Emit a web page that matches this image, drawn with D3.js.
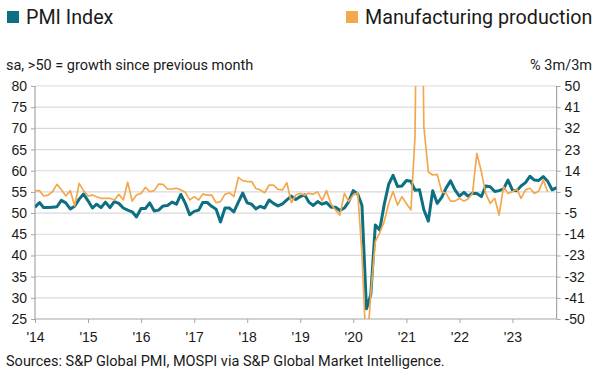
<!DOCTYPE html>
<html lang="en">
<head>
<meta charset="UTF-8">
<title>PMI vs manufacturing production</title>
<script src="https://cdn.jsdelivr.net/npm/d3@7"></script>
<style>
  body { margin: 0; background: #fff; }
  svg { display: block; }
  .axis text { font-family: "Liberation Sans Narrow", "Arial Narrow", "Liberation Sans", sans-serif; font-size: 14px; fill: #1a1a1a; }
  .axis path, .axis line { stroke: #a6a6a6; }
  .label { font-family: Roboto, "Liberation Sans", sans-serif; fill: #1a1a1a; }
</style>
</head>
<body>
<svg id="chart" width="599" height="377"></svg>
<script>
// series names
const pmiName = 'PMI Index';
const prodName = 'Manufacturing production';

// first month of both series (Jan 2014), one value per month after that
const startYear = 2014;

// PMI index, sa (Jan 2014 - Nov 2023)
const pmi = [
  51.4, 52.5, 51.3, 51.3, 51.4, 51.5, 53.0, 52.4, 51.0, 51.6, 53.3, 54.5,
  52.9, 51.2, 52.1, 51.3, 52.6, 51.3, 52.7, 52.3, 51.2, 50.7, 50.3, 49.1,
  51.1, 51.1, 52.4, 50.5, 50.7, 51.7, 51.8, 52.6, 52.1, 54.4, 52.3, 49.6,
  50.4, 50.7, 52.5, 52.5, 51.6, 50.9, 47.9, 51.2, 51.2, 50.3, 52.6, 54.7,
  52.4, 52.1, 51.0, 51.6, 51.2, 53.1, 52.3, 51.7, 52.2, 53.1, 54.0, 53.2,
  53.9, 54.3, 52.6, 51.8, 52.7, 52.1, 52.5, 51.4, 51.4, 50.6, 51.2, 52.7,
  55.3, 54.5, 51.8, 27.4, 30.8, 47.2, 46.0, 52.0, 56.8, 58.9, 56.3, 56.4,
  57.7, 57.5, 55.4, 55.5, 50.8, 48.1, 55.3, 52.3, 53.7, 55.9, 57.6, 55.5,
  54.0, 54.9, 54.0, 54.7, 54.6, 53.9, 56.4, 56.2, 55.1, 55.3, 55.7, 57.8,
  55.4, 55.3, 56.4, 57.2, 58.7, 57.8, 57.7, 58.6, 57.5, 55.5, 56.0
];

// manufacturing production, % (Jan 2014 - Sep 2023)
const production = [
  5.1, 5.1, 2.8, 3.2, 4.6, 7.8, 5.6, 2.8, 5.1, -1.5, 8.2, 5.1,
  2.8, 3.2, 2.5, 1.8, 1.8, 1.8, 1.1, 3.5, 1.1, 8.7, 0.6, 3.2,
  3.9, 6.5, 4.6, 5.1, 7.9, 7.8, 5.8, 5.8, 6.1, 5.4, 4.4, 1.1,
  2.5, 1.1, 3.6, 3.2, 3.2, -0.1, 0.4, 3.5, 4.2, 2.5, 10.8, 9.4,
  9.0, 9.0, 6.0, 5.4, 4.2, 7.5, 7.5, 5.6, 5.4, 8.5, -0.1, 3.2,
  3.9, 3.2, 3.9, 3.6, 4.6, 0.8, 5.1, -0.6, -3.2, -5.4, 3.9, 0.4,
  3.2, 4.2, -22, -66, -39, -16.8, -13, -8.2, -0.4, 4.7, -1.1, 2.5,
  -0.4, -3.2, 28, 197, 32.5, 13.2, 11.8, 12.1, 4.6, 3.9, 0.6, 0.6,
  1.8, 0.6, 1.5, 3.9, 21.1, 13.2, 3.9, -0.4, 1.8, -5.4, 6.8, 3.9,
  4.6, 5.8, 1.8, 5.4, 6.1, 3.9, 4.9, 9.6, 4.6
];

// axis ticks
const leftTicks = [25, 30, 35, 40, 45, 50, 55, 60, 65, 70, 75, 80];
const rightTickLabels = ['50', '41', '32', '23', '14', '5', '-5', '-14', '-23', '-32', '-41', '-50'];
const yearTicks = [2014, 2015, 2016, 2017, 2018, 2019, 2020, 2021, 2022, 2023];

const colors = { pmi: '#0c6f82', prod: '#f3a84e' };

const svg = d3.select('#chart');
const plot = { left: 35, right: 556.6, top: 86, bottom: 319 };

const monthDate = i => new Date(startYear, i, 1);
const pmiData = pmi.map((v, i) => ({ date: monthDate(i), v }));
const prodData = production.map((v, i) => ({ date: monthDate(i), v }));

const x = d3.scaleTime()
  .domain([monthDate(0), monthDate(pmi.length - 1)])
  .range([plot.left, plot.right]);
const yL = d3.scaleLinear().domain([25, 80]).range([plot.bottom, plot.top]);
const yR = d3.scaleLinear().domain([-50, 50]).range([plot.bottom, plot.top]);
const rightTicks = rightTickLabels.map((d, i) => 50 - i * 100 / (rightTickLabels.length - 1));

// gridlines
svg.append('g')
  .selectAll('line').data(leftTicks.filter(d => d > 25))
  .join('line')
  .attr('x1', plot.left).attr('x2', plot.right)
  .attr('y1', d => yL(d)).attr('y2', d => yL(d))
  .attr('stroke', '#d9d9d9').attr('stroke-width', 1.2);

// axes
const gL = svg.append('g').attr('class', 'axis')
  .attr('transform', `translate(${plot.left},0)`)
  .call(d3.axisLeft(yL).tickValues(leftTicks).tickSize(4).tickPadding(4));
const gR = svg.append('g').attr('class', 'axis')
  .attr('transform', `translate(${plot.right},0)`)
  .call(d3.axisRight(yR).tickValues(rightTicks).tickSize(4).tickPadding(4)
    .tickFormat((d, i) => rightTickLabels[i]));
const gX = svg.append('g').attr('class', 'axis')
  .attr('transform', `translate(0,${plot.bottom})`)
  .call(d3.axisBottom(x).tickValues(yearTicks.map(y => new Date(y, 0, 1)))
    .tickSize(4).tickPadding(9)
    .tickFormat(d => "'" + String(d.getFullYear()).slice(2)));
[gL, gR, gX].forEach(g => g.select('.domain').attr('d', null));
svg.append('line').attr('class', 'axisline')
  .attr('x1', plot.left).attr('x2', plot.right).attr('y1', plot.bottom).attr('y2', plot.bottom);
svg.append('line').attr('class', 'axisline')
  .attr('x1', plot.left).attr('x2', plot.left).attr('y1', plot.top).attr('y2', plot.bottom);
svg.append('line').attr('class', 'axisline')
  .attr('x1', plot.right).attr('x2', plot.right).attr('y1', plot.top).attr('y2', plot.bottom);
svg.selectAll('.axisline').attr('stroke', '#a6a6a6').attr('stroke-width', 1.2);

// lines, clipped to the plot area
svg.append('clipPath').attr('id', 'clip')
  .append('rect')
  .attr('x', plot.left).attr('y', plot.top)
  .attr('width', plot.right - plot.left).attr('height', plot.bottom - plot.top);
const lines = svg.append('g').attr('clip-path', 'url(#clip)');

lines.append('path').datum(pmiData)
  .attr('fill', 'none').attr('stroke', colors.pmi).attr('stroke-width', 3)
  .attr('stroke-linejoin', 'round')
  .attr('d', d3.line().x(d => x(d.date)).y(d => yL(d.v)));
lines.append('path').datum(prodData)
  .attr('fill', 'none').attr('stroke', colors.prod).attr('stroke-width', 1.7)
  .attr('stroke-linejoin', 'round')
  .attr('d', d3.line().x(d => x(d.date)).y(d => yR(d.v)));

// legend
const legend = [
  { name: pmiName, color: colors.pmi, x: 7 },
  { name: prodName, color: colors.prod, x: 346 }
];
const lg = svg.append('g').selectAll('g').data(legend).join('g')
  .attr('transform', d => `translate(${d.x},0)`);
lg.append('rect').attr('x', 0).attr('y', 11).attr('width', 12).attr('height', 12)
  .attr('fill', d => d.color);
lg.append('text').attr('class', 'label').attr('x', 19).attr('y', 24)
  .attr('font-size', 19.7).text(d => d.name);

// subtitles and source
svg.append('text').attr('class', 'label').attr('x', 6).attr('y', 70)
  .attr('font-size', 14.5).text('sa, >50 = growth since previous month');
svg.append('text').attr('class', 'label').attr('x', 592).attr('y', 70)
  .attr('text-anchor', 'end').attr('font-size', 14.5).text('% 3m/3m');
svg.append('text').attr('class', 'label').attr('x', 6).attr('y', 366)
  .attr('font-size', 14.5).text('Sources: S&P Global PMI, MOSPI via S&P Global Market Intelligence.');
</script>
</body>
</html>
